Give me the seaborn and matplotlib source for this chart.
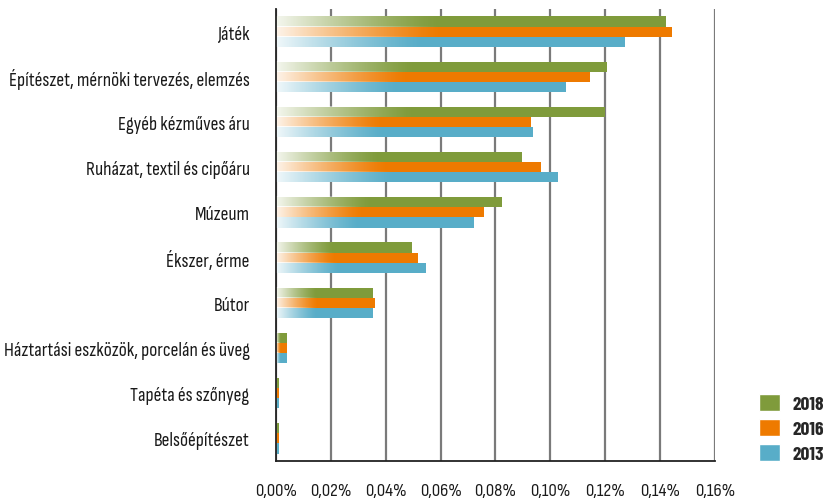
import numpy as np
import pandas as pd
import matplotlib
matplotlib.use("Agg")
import matplotlib.pyplot as plt
import matplotlib.ticker as mticker
from matplotlib.patches import Patch
import seaborn as sns

categories = [
    "Játék",
    "Építészet, mérnöki tervezés, elemzés",
    "Egyéb kézműves áru",
    "Ruházat, textil és cipőáru",
    "Múzeum",
    "Ékszer, érme",
    "Bútor",
    "Háztartási eszközök, porcelán és üveg",
    "Tapéta és szőnyeg",
    "Belsőépítészet",
]
years = ["2018", "2016", "2013"]
v2018 = [0.142, 0.1205, 0.120, 0.0896, 0.0823, 0.0496, 0.0353, 0.004, 0.001, 0.001]
v2016 = [0.1443, 0.1144, 0.0929, 0.0966, 0.0758, 0.0517, 0.0361, 0.004, 0.001, 0.001]
v2013 = [0.1272, 0.1057, 0.0937, 0.1028, 0.0722, 0.0547, 0.0353, 0.004, 0.001, 0.001]
colors = ["#7f9b3b", "#ee7a00", "#58adc8"]

df = pd.DataFrame({
    "cat": categories * 3,
    "year": [y for y in years for _ in categories],
    "value": v2018 + v2016 + v2013,
})

sns.set_style("white")
plt.rcParams["font.family"] = ["Sofia Sans Condensed", "Barlow Condensed", "DejaVu Sans"]

fig = plt.figure(figsize=(8.32, 5.02), dpi=100)
ax = fig.add_axes([0.3317, 0.0797, 0.8594 - 0.3317, 0.980 - 0.0797])

sns.barplot(data=df, y="cat", x="value", hue="year", hue_order=years,
            palette=colors, orient="h", width=0.67, ax=ax, legend=False,
            saturation=1, linewidth=0)

ax.set_xlim(0, 0.16)
ax.set_ylim(len(categories) - 0.5, -0.5)
ax.set_autoscale_on(False)

# white-to-colour gradient on the left part of each bar
ramp = np.linspace(0, 1, 256)
alpha = np.clip(1 - ramp / 0.42, 0, 1) ** 1.3 * 0.92
grad = np.ones((1, 256, 4))
grad[0, :, 3] = alpha
for p in ax.patches:
    x0, y0, w, h = p.get_x(), p.get_y(), p.get_width(), p.get_height()
    if w <= 0:
        continue
    ax.imshow(grad, extent=[x0, x0 + w, y0 + h, y0], aspect="auto",
              zorder=p.get_zorder() + 0.1, interpolation="bilinear")

ax.set_xlim(0, 0.16)
ax.set_ylim(len(categories) - 0.5, -0.5)

ax.set_xticks(np.arange(0, 0.161, 0.02))
ax.xaxis.set_major_formatter(mticker.FuncFormatter(
    lambda v, pos: f"{v:.2f}%".replace(".", ",")))
ax.grid(axis="x", color="#7a7a7a", lw=1.6)
ax.grid(axis="y", visible=False)
ax.set_axisbelow(True)

ax.set_yticks(range(len(categories)))
ax.set_yticklabels(categories)
ax.set_yticks(np.arange(-0.5, len(categories), 1), minor=True)
ax.tick_params(axis="y", which="major", length=0, pad=19, labelsize=14)
ax.tick_params(axis="y", which="minor", length=6, width=1.2, color="#222222", direction="out")
ax.tick_params(axis="x", length=6, width=1.2, color="#222222", direction="out",
               pad=10, labelsize=13.5)
for t in ax.get_xticklabels() + ax.get_yticklabels():
    t.set_color("#1a1a1a")

ax.set_xlabel("")
ax.set_ylabel("")
for s in ["top", "right"]:
    ax.spines[s].set_visible(False)
for s in ["left", "bottom"]:
    ax.spines[s].set_color("#222222")
    ax.spines[s].set_linewidth(1.3)

handles = [Patch(facecolor=c, label=y) for c, y in zip(colors, years)]
fig.legend(handles=handles, loc="lower right", bbox_to_anchor=(0.99, 0.075),
           frameon=False, prop={"family": "Barlow Condensed", "weight": "bold", "size": 14},
           handlelength=1.1, handleheight=1.0, handletextpad=0.6, labelspacing=0.3,
           borderpad=0, borderaxespad=0)

fig.savefig("out.png", dpi=100)
